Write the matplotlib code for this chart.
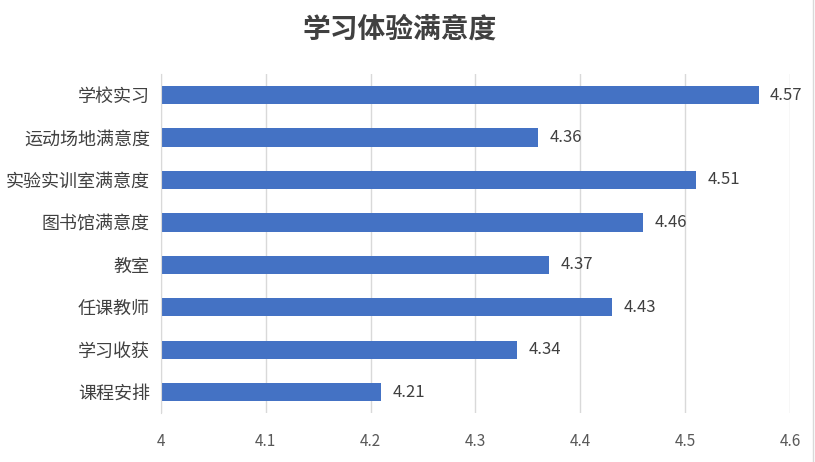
import numpy as np
import matplotlib
matplotlib.use("Agg")
import matplotlib.pyplot as plt
from matplotlib.lines import Line2D

plt.rcParams['font.family'] = ['Noto Sans CJK SC', 'DejaVu Sans']

categories = ['学校实习', '运动场地满意度', '实验实训室满意度', '图书馆满意度',
              '教室', '任课教师', '学习收获', '课程安排']
scores = [4.57, 4.36, 4.51, 4.46, 4.37, 4.43, 4.34, 4.21]
xticks = [4, 4.1, 4.2, 4.3, 4.4, 4.5, 4.6]
xtick_labels = ['4', '4.1', '4.2', '4.3', '4.4', '4.5', '4.6']

fig = plt.figure(figsize=(8.15, 4.62), dpi=100)
ax = fig.add_axes([0.1975, 0.1055, 0.7718, 0.7345])

y = np.arange(len(categories))[::-1]
ax.barh(y, [s - 4 for s in scores], left=4, height=0.43, color='#4472C4', zorder=3)

for yi, s in zip(y, scores):
    ax.text(s + 0.011, yi, f'{s:.2f}', va='center', ha='left', fontsize=12, color='#404040', zorder=5)

ax.set_xlim(4, 4.6)
ax.set_ylim(-0.5, len(categories) - 0.5)
ax.set_yticks(y)
ax.set_yticklabels(categories, fontsize=13, color='#404040')
ax.set_xticks(xticks)
ax.set_xticklabels(xtick_labels, fontsize=11, color='#595959')
ax.tick_params(axis='y', length=0, pad=8)
ax.tick_params(axis='x', length=0, pad=14)

ax.grid(axis='x', color='#d9d9d9', linewidth=1, zorder=0)
for side in ['top', 'right', 'bottom']:
    ax.spines[side].set_visible(False)
ax.spines['left'].set_color('#d9d9d9')
ax.spines['left'].set_zorder(4)

fig.text(0.49, 0.935, '学习体验满意度', ha='center', va='center', fontsize=20,
         fontweight='bold', color='#404040')

# chart frame edge on the right
fig.add_artist(Line2D([0.9975, 0.9975], [0, 1], transform=fig.transFigure,
                      color='#d9d9d9', linewidth=1))

fig.savefig('out.png', dpi=100)
